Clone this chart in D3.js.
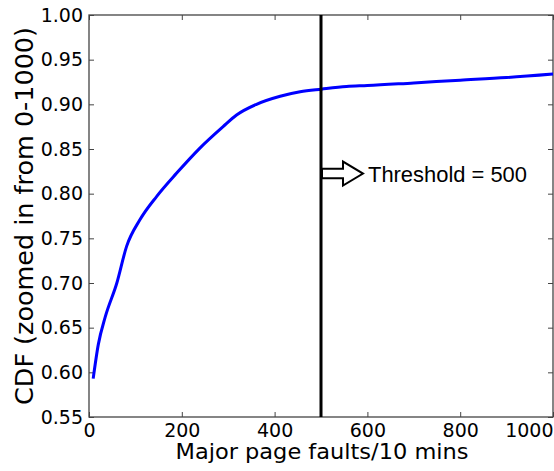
<html>
<head>
<script src="https://cdn.jsdelivr.net/npm/d3@7"></script>
</head>
<body style="margin:0;background:#fff">
<svg id="svg" width="554" height="471"></svg>
<script>
// CDF of major page faults
const faults = [9, 20, 35, 60, 81, 110, 146, 189, 239, 289, 318, 361, 412, 455, 501, 555, 600, 700, 800, 900, 1000];
const cdf = [0.593, 0.631, 0.662, 0.700, 0.741, 0.771, 0.797, 0.823, 0.851, 0.875, 0.888, 0.900, 0.909, 0.914, 0.917, 0.920, 0.921, 0.924, 0.927, 0.930, 0.934];
const xTicks = [0, 200, 400, 600, 800, 1000];
const yTicks = [0.55, 0.60, 0.65, 0.70, 0.75, 0.80, 0.85, 0.90, 0.95, 1.00];
const threshold = 500;
const arrowY = 0.8225;

const svg = d3.select("#svg");
const L = 89, R = 553, T = 15, B = 417;
const x = d3.scaleLinear().domain([0, 1000]).range([L, R]);
const y = d3.scaleLinear().domain([0.55, 1.0]).range([B, T]);
const tickCol = "#444";

function style(g) {
  g.select(".domain").remove();
  g.selectAll(".tick line").attr("stroke", tickCol).attr("stroke-width", 1);
  g.selectAll("text").attr("font-family", "DejaVu Sans").attr("font-size", 19).attr("fill", "#000");
}

svg.append("g").attr("transform", `translate(0,${B})`)
  .call(d3.axisBottom(x).tickValues(xTicks).tickSizeInner(-5).tickSizeOuter(0).tickPadding(7).tickFormat(d3.format("d")))
  .call(style)
  .call(g => g.selectAll(".tick text").filter(d => d === 1000).attr("text-anchor", "end"));
svg.append("g").attr("transform", `translate(0,${T})`)
  .call(d3.axisTop(x).tickValues(xTicks).tickSizeInner(-5).tickSizeOuter(0).tickFormat(""))
  .call(style);
svg.append("g").attr("transform", `translate(${L},0)`)
  .call(d3.axisLeft(y).tickValues(yTicks).tickSizeInner(-5).tickSizeOuter(0).tickPadding(6).tickFormat(d3.format(".2f")))
  .call(style);
svg.append("g").attr("transform", `translate(${R},0)`)
  .call(d3.axisRight(y).tickValues(yTicks).tickSizeInner(-5).tickSizeOuter(0).tickFormat(""))
  .call(style);

// frame
svg.append("rect").attr("x", L).attr("y", T).attr("width", R - L).attr("height", B - T)
  .attr("fill", "none").attr("stroke", tickCol).attr("stroke-width", 1.3);

// curve
const pts = faults.map((f, i) => [f, cdf[i]]);
svg.append("path").datum(pts)
  .attr("fill", "none").attr("stroke", "#0000ff").attr("stroke-width", 3).attr("stroke-linejoin", "round")
  .attr("d", d3.line().curve(d3.curveMonotoneX).x(d => x(d[0])).y(d => y(d[1])));

// threshold line
svg.append("line").attr("x1", x(threshold)).attr("x2", x(threshold)).attr("y1", T).attr("y2", B)
  .attr("stroke", "#000").attr("stroke-width", 3);

// block arrow
const ax = x(threshold) + 1, ay = y(arrowY);
const arrow = [[ax, ay - 4.7], [ax + 21, ay - 4.7], [ax + 21, ay - 12], [ax + 41, ay], [ax + 21, ay + 12], [ax + 21, ay + 4.7], [ax, ay + 4.7]];
svg.append("path").attr("d", "M" + arrow.join("L") + "Z")
  .attr("fill", "#fff").attr("stroke", "#000").attr("stroke-width", 2);
svg.append("text").attr("x", ax + 46).attr("y", ay + 8.5)
  .attr("font-family", "Liberation Sans").attr("font-size", 22)
  .attr("textLength", 159).attr("lengthAdjust", "spacingAndGlyphs")
  .text("Threshold = " + threshold);

// axis titles
svg.append("text").attr("x", (L + R) / 2 + 1).attr("y", 459)
  .attr("text-anchor", "middle").attr("font-family", "DejaVu Sans").attr("font-size", 21)
  .attr("textLength", 293).attr("lengthAdjust", "spacingAndGlyphs")
  .text("Major page faults/10 mins");
svg.append("text").attr("transform", `translate(33,${(T + B) / 2}) rotate(-90)`)
  .attr("text-anchor", "middle").attr("font-family", "DejaVu Sans").attr("font-size", 24)
  .attr("textLength", 378).attr("lengthAdjust", "spacingAndGlyphs")
  .text("CDF (zoomed in from 0-1000)");
</script>
</body>
</html>
